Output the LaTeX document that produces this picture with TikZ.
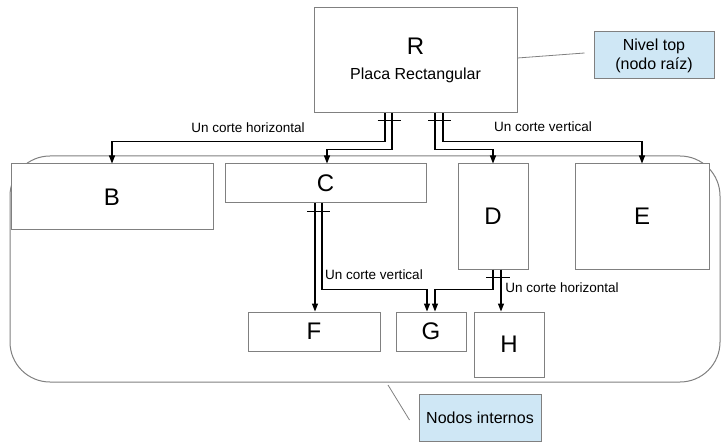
\documentclass[tikz,border=0pt]{standalone}
\usepackage{fontspec}
\setmainfont{Liberation Sans}
\usetikzlibrary{arrows.meta}

\definecolor{notefill}{RGB}{207,231,245}
\definecolor{boxgray}{RGB}{128,128,128}

\tikzstyle{block} = [rectangle, draw=boxgray, line width=1pt, fill=white, inner sep=0pt, font=\fontsize{24}{28}\selectfont]
\tikzstyle{note} = [rectangle, draw=boxgray, line width=1pt, fill=notefill, inner sep=0pt, align=center, font=\fontsize{16}{19}\selectfont]
\tikzstyle{arrow} = [line width=1.2pt, -{Triangle[length=8pt,width=6pt]}]
\tikzstyle{cut} = [line width=0.9pt]
\tikzstyle{lbl} = [font=\fontsize{13.5}{16}\selectfont, inner sep=0pt]

\begin{document}
\begin{tikzpicture}[x=1pt, y=-1pt]
    \useasboundingbox (0,0) rectangle (722,446);

    % Nodes
    \node(inner) [rectangle, draw=boxgray, line width=1pt, rounded corners=40pt, minimum width=710pt, minimum height=226pt] at (365,269) {};
    \node(root) [block, minimum width=203pt, minimum height=105pt, align=center] at (415.5,60.5) {R\\[-3pt]{\fontsize{16}{19}\selectfont Placa Rectangular}};
    \node(b) [block, minimum width=202pt, minimum height=66pt] at (112,197) {B};
    \node(c) [block, minimum width=201pt, minimum height=39pt] at (325.5,183.5) {C};
    \node(d) [block, minimum width=70pt, minimum height=105pt] at (493,216.5) {D};
    \node(e) [block, minimum width=134pt, minimum height=105pt] at (642,216.5) {E};
    \node(f) [block, minimum width=132pt, minimum height=39pt] at (314,331.5) {F};
    \node(g) [block, minimum width=70pt, minimum height=39pt] at (431,331.5) {G};
    \node(h) [block, minimum width=70pt, minimum height=65pt] at (509,344.5) {H};
    \node(top) [note, minimum width=120pt, minimum height=47pt] at (654,55.5) {Nivel top\\(nodo raíz)};
    \node(internos) [note, minimum width=122pt, minimum height=47pt] at (480,417.5) {Nodos internos};

    % Arrows
    \draw [arrow] ([xshift=-30.5pt]root.south) -- ++(0,28) -| (b.north);
    \draw [arrow] ([xshift=-23.5pt]root.south) -- ++(0,36) -| ([xshift=1.5pt]c.north);
    \draw [arrow] ([xshift=19.5pt]root.south) -- ++(0,36) -| (d.north);
    \draw [arrow] ([xshift=27.5pt]root.south) -- ++(0,28) -| (e.north);
    \draw [arrow] ([xshift=-10.5pt]c.south) -- ([xshift=-10.5pt]c.south |- f.north);
    \draw [arrow] ([xshift=-3.5pt]c.south) -- ++(0,86) -| ([xshift=-4pt]g.north);
    \draw [arrow] (d.south) -- ++(0,20) -| ([xshift=4pt]g.north);
    \draw [arrow] ([xshift=8pt]d.south) -- ([xshift=8pt]d.south |- h.north);

    % Cut marks
    \draw [cut] ([xshift=-38pt,yshift=-7pt]root.south) -- ++(23,0);
    \draw [cut] ([xshift=12.5pt,yshift=-7pt]root.south) -- ++(23,0);
    \draw [cut] ([xshift=-18.5pt,yshift=-8pt]c.south) -- ++(23,0);
    \draw [cut] ([xshift=-7pt,yshift=-8pt]d.south) -- ++(24,0);

    % Callouts
    \draw [boxgray, line width=0.8pt] ([yshift=2.5pt]root.east) -- ([xshift=-9pt,yshift=2.5pt]top.west);
    \draw [boxgray, line width=0.8pt] (388,385) -- ([xshift=-9pt,yshift=-2.5pt]internos.west);

    % Labels
    \node(lh1) [lbl] at (248,128) {Un corte horizontal};
    \node(lv1) [lbl] at (543,127) {Un corte vertical};
    \node(lv2) [lbl] at (374,275) {Un corte vertical};
    \node(lh2) [lbl] at (562,288) {Un corte horizontal};

\end{tikzpicture}
\end{document}
